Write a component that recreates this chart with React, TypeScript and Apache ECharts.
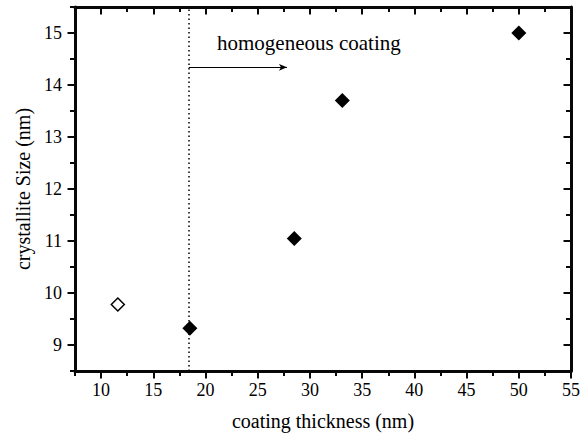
import React, { useEffect, useRef } from "react";
import * as echarts from "echarts";

const xMajor = [10, 15, 20, 25, 30, 35, 40, 45, 50, 55];
const xMinor = [7.5, 12.5, 17.5, 22.5, 27.5, 32.5, 37.5, 42.5, 47.5, 52.5];
const yMajor = [9, 10, 11, 12, 13, 14, 15];
const yMinor = [8.5, 9.5, 10.5, 11.5, 12.5, 13.5, 14.5, 15.5];

const openPoints = [[11.6, 9.78]];
const filledPoints = [
  [18.5, 9.32],
  [28.5, 11.05],
  [33.1, 13.7],
  [50, 15.0],
];
const boundaryX = 18.4;
const arrowStart = [18.4, 14.34];
const arrowEnd = [27.8, 14.34];
const noteText = "homogeneous coating";
const notePos = [21.1, 14.81];

const FONT = "Liberation Serif";
const INK = "rgb(8,8,8)";

function axisBase(kind: "x" | "y", position: string, values: number[], major: boolean, inside: boolean, showLabel: boolean) {
  const isX = kind === "x";
  return {
    type: "value",
    position,
    min: isX ? 7.5 : 8.5,
    max: isX ? 55 : 15.5,
    splitLine: { show: false },
    axisLine: { show: major, onZero: false, lineStyle: { color: INK, width: 3, opacity: 1 } },
    axisTick: {
      show: true,
      inside,
      length: major ? 7.5 : 5,
      customValues: values,
      lineStyle: { color: INK, width: 2, opacity: 1 },
    },
    axisLabel: {
      show: showLabel,
      customValues: values,
      color: "#000",
      fontFamily: FONT,
      fontSize: 18,
      margin: isX ? 10 : 13,
    },
  };
}

export default function App() {
  const ref = useRef<HTMLDivElement>(null);
  useEffect(() => {
    if (!ref.current) return;
    const chart = echarts.init(ref.current, null, { renderer: "svg" });
    const xb = axisBase("x", "bottom", xMajor, true, false, true) as any;
    xb.name = "coating thickness (nm)";
    xb.nameLocation = "middle";
    xb.nameGap = 40;
    xb.nameTextStyle = { color: "#000", fontFamily: FONT, fontSize: 20 };
    const yl = axisBase("y", "left", yMajor, true, false, true) as any;
    yl.name = "crystallite Size (nm)";
    yl.nameLocation = "middle";
    yl.nameGap = 41;
    yl.nameTextStyle = { color: "#000", fontFamily: FONT, fontSize: 20 };
    chart.setOption({
      animation: false,
      backgroundColor: "#fff",
      grid: {
        left: 75,
        right: 16,
        top: 7,
        bottom: 64,
        containLabel: false,
        show: false,
      },
      xAxis: [
        xb,
        axisBase("x", "bottom", xMinor, false, false, false),
        axisBase("x", "top", xMajor, true, true, false),
        axisBase("x", "top", xMinor, false, true, false),
      ],
      yAxis: [
        yl,
        axisBase("y", "left", yMinor, false, false, false),
        axisBase("y", "right", yMajor, true, true, false),
        axisBase("y", "right", yMinor, false, true, false),
      ],
      series: [
        {
          type: "scatter",
          data: openPoints,
          symbol: "diamond",
          symbolSize: 13,
          itemStyle: { color: "#fff", borderColor: "#000", borderWidth: 1.5, opacity: 1 },
          silent: true,
        },
        {
          type: "scatter",
          data: filledPoints,
          symbol: "diamond",
          symbolSize: 15,
          itemStyle: { color: "#000", opacity: 1 },
          silent: true,
          markLine: {
            silent: true,
            animation: false,
            symbol: "none",
            label: { show: false },
            lineStyle: { color: "#000", width: 1, type: "solid", opacity: 1 },
            data: [
              {
                xAxis: boundaryX,
                lineStyle: { type: [1.5, 3], color: "#000", width: 1.5 },
              },
              [
                { coord: arrowStart, symbol: "none" },
                { coord: arrowEnd, symbol: "arrow", symbolSize: [5, 8] },
              ],
            ],
          },
        },
        {
          type: "scatter",
          data: [notePos],
          symbolSize: 0,
          silent: true,
          itemStyle: { opacity: 1 },
          label: {
            show: true,
            position: "right",
            distance: 0,
            formatter: noteText,
            color: "#000",
            fontFamily: FONT,
            fontSize: 21,
          },
        },
      ],
    });
    return () => chart.dispose();
  }, []);
  return (
    <div
      ref={ref}
      style={{ position: "fixed", left: 0, top: 0, width: 587, height: 436, background: "#fff" }}
    />
  );
}
